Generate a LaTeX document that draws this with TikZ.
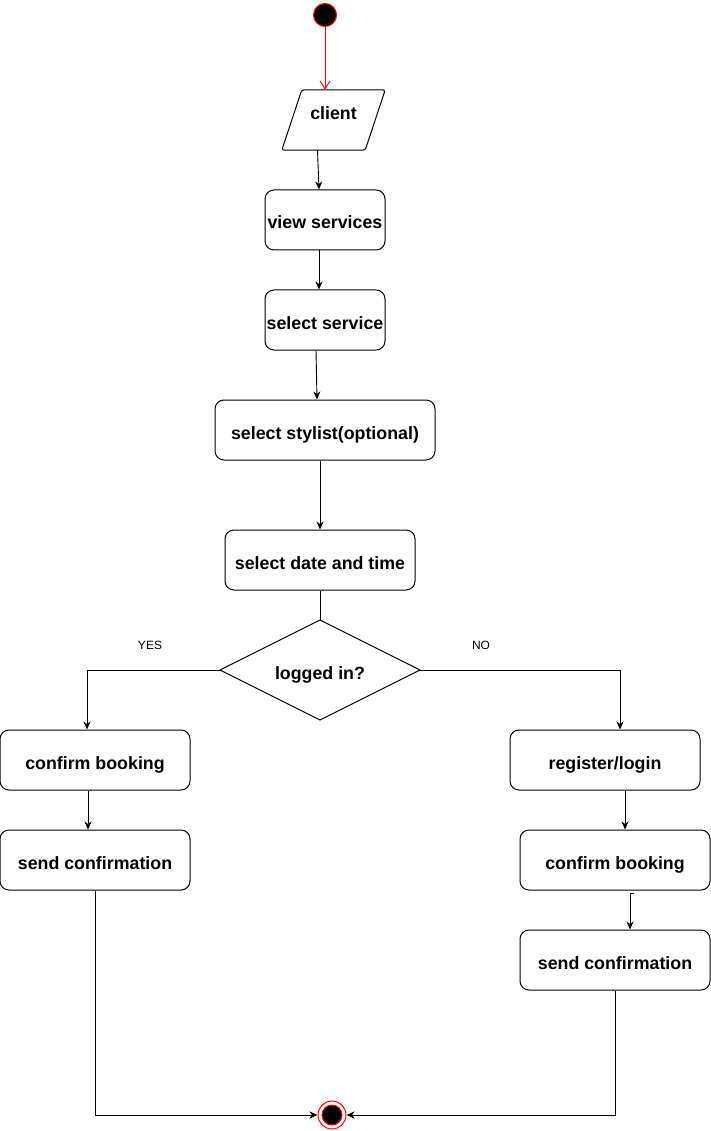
\documentclass[tikz,border=0pt]{standalone}
\usepackage{fontspec}
\setmainfont{Liberation Sans}
\usetikzlibrary{shapes.geometric,arrows.meta}
\begin{document}
\begin{tikzpicture}[x=1pt,y=-1pt,
  txt/.style={font=\bfseries\fontsize{17.8}{20}\selectfont, text height=18pt, text depth=0pt},
  box/.style={draw, line width=1pt, rounded corners=9pt, minimum width=#1, minimum height=60pt, inner sep=0pt, txt},
  arr/.style={line width=0.9pt, -{Stealth[length=8pt,width=7pt,inset=2.5pt]}},
  ln/.style={line width=0.9pt},
  lbl/.style={font=\fontsize{12}{14}\selectfont}]
\useasboundingbox (0,0) rectangle (711,1131);
% start
\node[circle, draw=red, fill=black, line width=1pt, minimum size=23pt, inner sep=0pt] (start) at (325,15) {};
\node[minimum width=103pt, minimum height=60pt, inner sep=0pt, txt] (client) at (333.5,120) {\raisebox{9pt}{client}};
\draw[line width=1pt, rounded corners=2.5pt] ([xshift=20pt]client.north west) -- (client.north east)
   -- ([xshift=-20pt]client.south east) -- (client.south west) -- cycle;
\node[box=120pt] (view) at (325,220) {view services};
\node[box=120pt] (selsvc) at (325,320) {select service};
\node[box=220pt] (stylist) at (325,430) {select stylist(optional)};
\node[box=190pt] (date) at (320,560) {select date and time};
\node[diamond, aspect=2, draw, line width=1pt, minimum width=200pt, minimum height=100pt, inner sep=0pt, outer sep=0pt,
      txt] (dia) at (320,670) {logged in?};
\node[box=190pt] (cb1) at (95,760) {confirm booking};
\node[box=190pt] (sc1) at (95,860) {send confirmation};
\node[box=190pt] (reg) at (605,760) {register/login};
\node[box=190pt] (cb2) at (615,860) {confirm booking};
\node[box=190pt] (sc2) at (615,960) {send confirmation};
\node[circle, draw=red, line width=1pt, minimum size=28pt, inner sep=0pt] (stop) at (332,1115) {};
\filldraw[fill=black, draw=red, line width=1pt] (stop.center) circle (10pt);
\node[lbl] (yes) at (150,645) {YES};
\node[lbl] (no) at (481,645) {NO};
% connectors
\draw[ln, red, -{Straight Barb[length=8pt,width=10pt]}] (start.south) -- ([xshift=-8.5pt]client.north);
\draw[arr] ([xshift=-16pt]client.south) -- ([xshift=-6pt]view.north);
\draw[arr] ([xshift=-6pt]view.south) -- ([xshift=-6pt]selsvc.north);
\draw[arr] ([xshift=-9pt]selsvc.south) -- ([xshift=-8pt]stylist.north);
\draw[arr] ([xshift=-5pt]stylist.south) -- (date.north);
\draw[ln] (date.south) -- (dia.north);
\draw[arr] (dia.west) -| ([xshift=-8pt]cb1.north);
\draw[arr] ([xshift=-7pt]cb1.south) -- ([xshift=-7pt]sc1.north);
\draw[arr] (sc1.south) |- (stop.west);
\draw[arr] (dia.east) -| ([xshift=15pt]reg.north);
\draw[arr] ([xshift=20pt]reg.south) -- ([xshift=10pt]cb2.north);
\coordinate (k1) at ([xshift=19pt,yshift=-3pt]cb2.south);
\coordinate (k2) at ([xshift=15pt,yshift=-3pt]cb2.south);
\draw[arr] (k1) -- (k2) -- (k2 |- sc2.north);
\draw[arr] (sc2.south) |- (stop.east);
\end{tikzpicture}
\end{document}
